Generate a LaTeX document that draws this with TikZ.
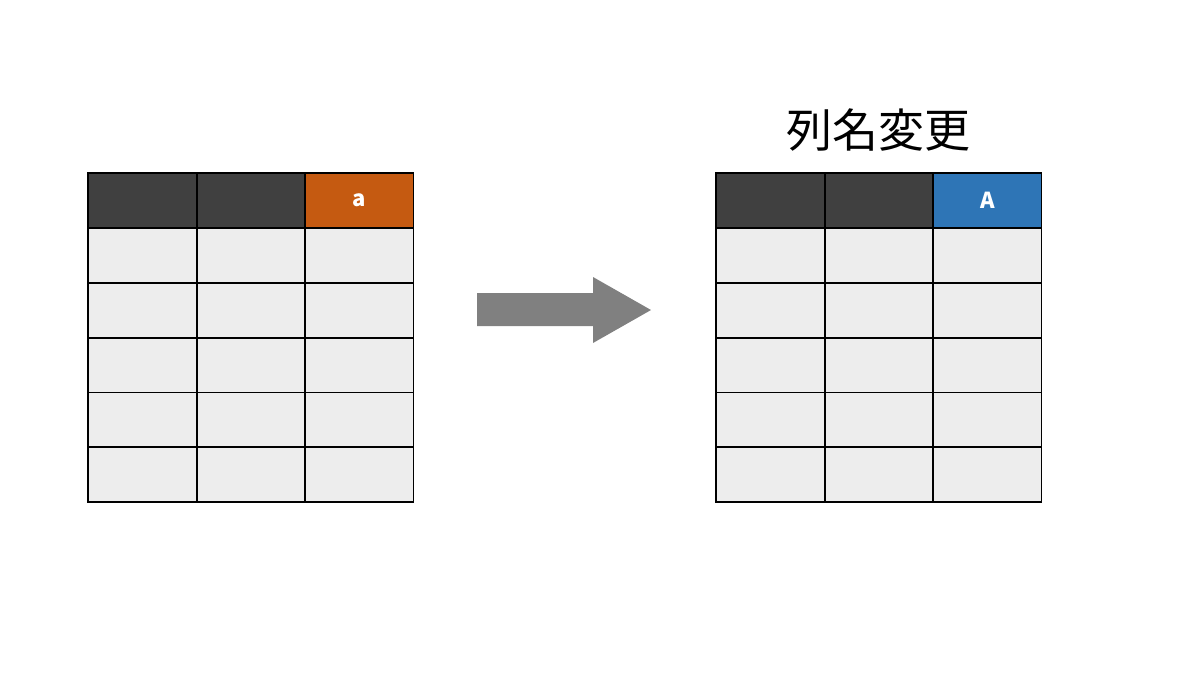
\documentclass[tikz,border=0pt]{standalone}
\usepackage{fontspec}
\usepackage{tikz}
\usetikzlibrary{matrix}
\newfontfamily\cjk{Noto Sans CJK JP}
\definecolor{headgray}{HTML}{404040}
\definecolor{cellgray}{HTML}{EDEDED}
\definecolor{oldcol}{HTML}{C55A11}
\definecolor{newcol}{HTML}{2E75B6}
\definecolor{arrowgray}{HTML}{808080}
\tikzstyle{cell} = [rectangle, minimum width=54.2pt, minimum height=27.4pt, draw=black, line width=0.9pt, fill=cellgray, outer sep=0pt, inner sep=0pt, anchor=center]
\tikzstyle{head} = [cell, fill=headgray, text=white, font=\cjk\bfseries\fontsize{11}{13}\selectfont]
\newcommand{\hd}{|[head]|}
\newcommand{\ol}{|[head, fill=oldcol]|}
\newcommand{\nw}{|[head, fill=newcol]|}
\newcommand{\cl}{|[cell]|}
\begin{document}
\begin{tikzpicture}[x=0.5pt, y=-0.5pt]%
			\useasboundingbox (0,0) rectangle (1200,675);%
			\matrix (before) at (87,172) [matrix of nodes, ampersand replacement=\&, inner sep=0pt,%
				anchor=north west, nodes={anchor=center}, column sep=-0.9pt, row sep=-0.9pt] { \hd \& \hd \& \ol a \\%
				\cl \& \cl \& \cl \\
				\cl \& \cl \& \cl \\
				\cl \& \cl \& \cl \\
				\cl \& \cl \& \cl \\
				\cl \& \cl \& \cl \\
			};%
			\matrix (after) at (715,172) [matrix of nodes, ampersand replacement=\&, inner sep=0pt,%
				anchor=north west, nodes={anchor=center}, column sep=-0.9pt, row sep=-0.9pt] { \hd \& \hd \& \nw A \\%
				\cl \& \cl \& \cl \\
				\cl \& \cl \& \cl \\
				\cl \& \cl \& \cl \\
				\cl \& \cl \& \cl \\
				\cl \& \cl \& \cl \\
			};%
			\node (title) at (878,130) {\cjk\fontsize{23}{27}\selectfont 列名変更};%
			\fill[arrowgray] (477,293) -- (593,293) -- (593,277) -- (651,310) -- (593,343) -- (593,326) -- (477,326) -- cycle;%
		\end{tikzpicture}
\end{document}
